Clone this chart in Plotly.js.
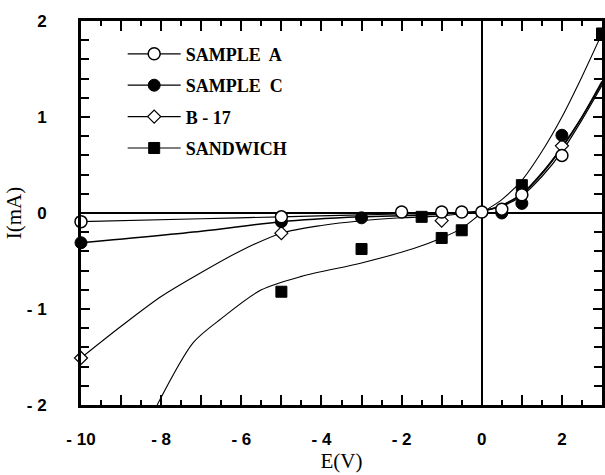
<!DOCTYPE html>
<html><head><meta charset="utf-8">
<script src="https://cdn.plot.ly/plotly-3.0.1.min.js"></script>
<style>html,body{margin:0;padding:0;background:#fff}#c{width:605px;height:475px}</style>
</head><body><div id="c"></div>
<script>
// Measured points
const aX = [-10, -5, -2, -1, -0.5, 0, 0.5, 1, 2];
const aY = [-0.09, -0.04, 0.01, 0.01, 0.01, 0.01, 0.04, 0.19, 0.6];
const cX = [-10, -5, -3, 0.5, 1, 2];
const cY = [-0.31, -0.09, -0.05, 0.0, 0.1, 0.81];
const bX = [-10, -5, -1, 2];
const bY = [-1.51, -0.21, -0.08, 0.7];
const sX = [-5, -3, -1.5, -1, -0.5, 1, 3];
const sY = [-0.82, -0.375, -0.04, -0.26, -0.18, 0.29, 1.87];
// Fitted curves
const aFitX = [-10, -7, -5, -3, -2, -1, 0, 0.5, 1, 1.5, 2, 2.5, 3];
const aFitY = [-0.09, -0.06, -0.04, -0.02, -0.01, 0.0, 0.02, 0.07, 0.18, 0.38, 0.64, 0.97, 1.33];
const cFitX = [-10, -7, -5, -3, -1.5, 0, 0.5, 1, 1.5, 2, 2.5, 3];
const cFitY = [-0.31, -0.19, -0.09, -0.04, -0.02, 0.02, 0.08, 0.2, 0.41, 0.68, 1.0, 1.37];
const bFitX = [-10, -9, -8, -7, -6, -5, -4, -3, -2, -1, 0, 0.5, 1, 1.5, 2, 2.5, 3];
const bFitY = [-1.51, -1.18, -0.87, -0.62, -0.39, -0.21, -0.13, -0.08, -0.05, -0.03, 0.02, 0.08, 0.2, 0.42, 0.69, 1.0, 1.35];
const sFitX = [-8.1, -7.2, -6.5, -5.5, -4.5, -3, -1.7, -1, -0.5, 0, 0.5, 1, 1.5, 2, 2.5, 3];
const sFitY = [-2.0, -1.35, -1.1, -0.8, -0.66, -0.52, -0.37, -0.26, -0.16, 0.0, 0.14, 0.34, 0.64, 1.0, 1.42, 1.87];
const names = ['SAMPLE  A', 'SAMPLE  C', 'B - 17', 'SANDWICH'];
const xTickVals = [-10,-9,-8,-7,-6,-5,-4,-3,-2,-1,0,1,2,3];
const xTickText = ['- 10','','- 8','','- 6','','- 4','','- 2','','0','','2',''];
const yTickVals = [-2,-1,0,1,2];
const yTickText = ['- 2','- 1','0','1','2'];

const mkOpenCircle = {symbol:'circle', size:12, color:'#fff', line:{color:'#000', width:1.5}};
const mkFillCircle = {symbol:'circle', size:12, color:'#000', line:{color:'#000', width:1}};
const mkDiamond = {symbol:'diamond', size:10, color:'#fff', line:{color:'#000', width:1.2}};
const mkSquare = {symbol:'square', size:11, color:'#000', line:{color:'#000', width:1}};

function fit(x, y, w){ return {x:x, y:y, mode:'lines', line:{color:'#000', width:w, shape:'spline', smoothing:0.8}, showlegend:false, hoverinfo:'skip'}; }
function pts(x, y, m){ return {x:x, y:y, mode:'markers', marker:m, showlegend:false, cliponaxis:false}; }
function leg(name, m, g){ return {x:[null], y:[null], name:name, mode:'lines+markers', marker:m, line:{color:'#000', width:1.2}, legendgroup:g}; }

const traces = [
  fit(aFitX, aFitY, 1.2), fit(cFitX, cFitY, 1.5), fit(bFitX, bFitY, 1.1), fit(sFitX, sFitY, 1.1),
  pts(sX, sY, mkSquare), pts(bX, bY, mkDiamond), pts(cX, cY, mkFillCircle), pts(aX, aY, mkOpenCircle),
  leg(names[0], mkOpenCircle, 'a'), leg(names[1], mkFillCircle, 'c'), leg(names[2], mkDiamond, 'b'), leg(names[3], mkSquare, 's')
];

const tickFont = {family:'Liberation Sans, Arial, sans-serif', size:17, color:'#000', weight:'bold'};
const layout = {
  width:605, height:475,
  margin:{l:81, r:3, t:21, b:70},
  paper_bgcolor:'#fff', plot_bgcolor:'#fff',
  showlegend:true,
  legend:{x:0.08, y:0.962, xanchor:'left', yanchor:'top', bgcolor:'rgba(0,0,0,0)', borderwidth:0,
    font:{family:'Liberation Serif, Times New Roman, serif', size:18, color:'#000', weight:'bold'},
    traceorder:'grouped', tracegroupgap:5, itemwidth:53},
  xaxis:{range:[-10,3], tickmode:'array', tickvals:xTickVals, ticktext:xTickText,
    ticks:'inside', ticklen:10, tickwidth:2, tickcolor:'#000',
    minor:{dtick:0.5, tick0:0, ticks:'inside', ticklen:5, tickwidth:2, tickcolor:'#000'},
    showline:true, linewidth:3, linecolor:'#000', mirror:'allticks',
    showgrid:false, zeroline:true, zerolinewidth:2, zerolinecolor:'#000',
    tickfont:tickFont, ticklabelstandoff:17,
    title:{text:'E(V)', font:{family:'Liberation Serif, Times New Roman, serif', size:21, color:'#000'}, standoff:4}},
  yaxis:{range:[-2,2], tickmode:'array', tickvals:yTickVals, ticktext:yTickText,
    ticks:'inside', ticklen:9, tickwidth:2, tickcolor:'#000',
    minor:{dtick:0.2, tick0:0, ticks:'inside', ticklen:8, tickwidth:2, tickcolor:'#000'},
    showline:true, linewidth:3, linecolor:'#000', mirror:'allticks',
    showgrid:false, zeroline:true, zerolinewidth:2, zerolinecolor:'#000',
    tickfont:tickFont, ticklabelstandoff:28,
    title:{text:'I(mA)', font:{family:'Liberation Serif, Times New Roman, serif', size:21, color:'#000'}, standoff:0}}
};
Plotly.newPlot('c', traces, layout, {displayModeBar:false, staticPlot:true});
</script></body></html>
